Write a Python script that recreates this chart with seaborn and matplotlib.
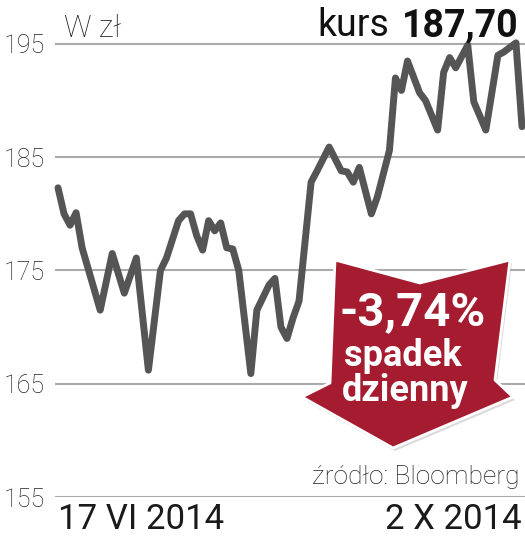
import matplotlib
matplotlib.use("Agg")
import matplotlib.pyplot as plt
from matplotlib.patches import Polygon
import pandas as pd
import seaborn as sns

# trading-day index (0 = 17 VI 2014, 77 = 2 X 2014) and closing price in zł
days = [0, 1, 2, 3, 4, 7, 9, 11, 13, 15, 17, 18, 20, 21, 22, 23, 24, 25, 26, 27,
        28, 29, 30, 32, 33, 34, 35, 36, 37, 38, 39, 40, 42, 43, 45, 47, 48, 49, 50,
        52, 53, 55, 56, 57, 58, 60, 61, 63, 64, 65, 66, 68, 69, 71, 73, 74, 76, 77]
price = [182.3, 180.0, 179.0, 180.1, 177.0, 171.5, 176.5, 173.0, 176.1, 166.2,
         175.0, 176.1, 179.4, 180.0, 180.0, 178.1, 176.8, 179.4, 178.5, 179.2,
         177.0, 176.9, 175.0, 165.9, 171.5, 172.6, 173.7, 174.3, 170.0, 169.0,
         170.8, 172.3, 182.8, 183.8, 185.9, 183.8, 183.7, 182.8, 184.1, 180.0,
         181.5, 185.6, 192.0, 190.9, 193.5, 190.7, 190.0, 187.4, 192.5, 193.8,
         192.9, 194.9, 189.9, 187.4, 194.0, 194.3, 195.1, 187.7]

y_ticks = [155, 165, 175, 185, 195]
x_labels = ["17 VI 2014", "2 X 2014"]
last_price = "187,70"
change = "-3,74%"

df = pd.DataFrame({"day": days, "price": price})

sns.set_style("white")
plt.rcParams["font.family"] = ["Roboto", "DejaVu Sans"]

W, H = 525, 541
fig = plt.figure(figsize=(W / 100, H / 100), dpi=100)
ax = fig.add_axes([55 / W, 44 / H, 470 / W, 470 / H])

sns.lineplot(data=df, x="day", y="price", ax=ax, color="#555555",
             linewidth=5, solid_joinstyle="round", solid_capstyle="round", zorder=3)
for a in ax.lines:
    a.set_clip_on(False)

ax.set_xlim(-0.5, 77.5)
ax.set_ylim(155, 196.5)
ax.set_yticks(y_ticks)
ax.set_yticklabels([str(t) for t in y_ticks], fontsize=18, fontweight="light",
                   color="#222222")
ax.tick_params(axis="y", length=0, pad=7)
ax.yaxis.grid(True, color="#aaaaaa", linewidth=1.5)
ax.xaxis.grid(False)
for s in ax.spines.values():
    s.set_visible(False)

ax.set_xticks([days[0], days[-1]])
ax.set_xticklabels(x_labels, fontsize=25, color="#1a1a1a", fontweight="normal")
ax.tick_params(axis="x", length=0, pad=4)
labs = ax.get_xticklabels()
labs[0].set_ha("left")
labs[1].set_ha("right")
ax.set_xlabel("")
ax.set_ylabel("")


def fx(px, py):
    return (px / W, 1 - py / H)


# header texts
fig.text(*fx(64, 37), "W zł", fontsize=22, fontweight="light", color="#222222",
         va="baseline", ha="left")
fig.text(*fx(317, 36), "kurs", fontsize=27, fontweight="normal", color="#111111",
         va="baseline", ha="left")
fig.text(*fx(519, 36), last_price, fontsize=27, fontweight="bold", color="#111111",
         va="baseline", ha="right")
fig.text(*fx(519, 484), "źródło: Bloomberg", fontsize=19, fontweight="light",
         color="#222222", va="baseline", ha="right")

# red arrow badge
arrow_px = [(335, 260), (420, 283), (510, 260), (495, 380), (513, 397),
            (393, 448), (302, 397), (330, 383)]
shadow = Polygon([fx(x + 2, y + 3) for x, y in arrow_px], closed=True,
                 transform=fig.transFigure, facecolor="#999999", alpha=0.35,
                 edgecolor="none", zorder=4)
badge = Polygon([fx(x, y) for x, y in arrow_px], closed=True,
                transform=fig.transFigure, facecolor="#a51c30",
                edgecolor="white", linewidth=2, joinstyle="round", zorder=5)
fig.patches.extend([shadow, badge])

fig.text(*fx(413, 312), change, fontsize=34, fontweight="bold", color="white",
         ha="center", va="center", zorder=6)
fig.text(*fx(403, 356), "spadek", fontsize=26, fontweight="bold", color="white",
         ha="center", va="center", zorder=6)
fig.text(*fx(405, 391), "dzienny", fontsize=26, fontweight="bold", color="white",
         ha="center", va="center", zorder=6)

fig.savefig("out.png", dpi=100)
